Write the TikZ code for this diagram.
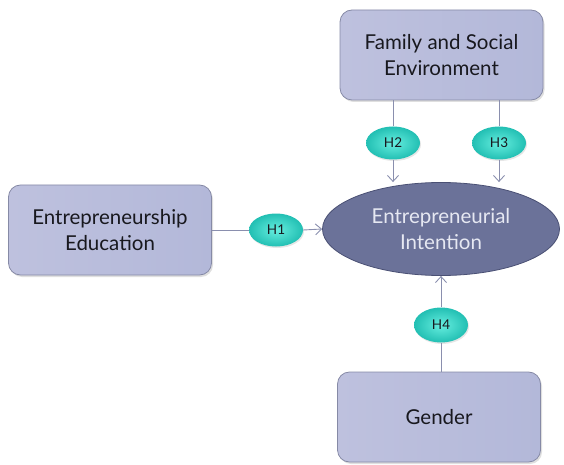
\documentclass[tikz,border=0pt]{standalone}
\usepackage{fontspec}
\setmainfont{Lato}
\usetikzlibrary{shapes.geometric,arrows.meta,shadows}
\definecolor{boxL}{HTML}{BEC1DE}
\definecolor{boxR}{HTML}{B3B8D9}
\definecolor{boxD}{HTML}{868AA6}
\definecolor{ellF}{HTML}{6B7299}
\definecolor{ellD}{HTML}{4A5074}
\definecolor{ellT}{HTML}{E6E8F2}
\definecolor{hIn}{HTML}{66EEDF}
\definecolor{hOut}{HTML}{22BFB3}
\definecolor{lineC}{HTML}{8A8FAE}
\definecolor{txt}{HTML}{18181E}
\begin{document}
\begin{tikzpicture}[x=1pt,y=1pt,
  factor/.style={rectangle, rounded corners=12pt, draw=boxD, line width=0.8pt,
    left color=boxL, right color=boxR, minimum width=203pt, minimum height=90pt,
    align=center, font=\fontsize{20.5}{26}\selectfont, text=txt,
    drop shadow={opacity=0.25, shadow xshift=1.5pt, shadow yshift=-2pt}},
  target/.style={ellipse, draw=ellD, line width=0.8pt, fill=ellF,
    minimum width=237pt, minimum height=93pt, inner sep=0pt, align=center,
    font=\fontsize{20.5}{26}\selectfont, text=ellT},
  hyp/.style={ellipse, inner sep=0pt, minimum width=54pt, minimum height=33pt,
    inner color=hIn, outer color=hOut, font=\fontsize{13.5}{15}\selectfont, text=txt,
    drop shadow={opacity=0.2, shadow xshift=1pt, shadow yshift=-1.5pt}},
  conn/.style={draw=lineC, line width=0.9pt},
  arr/.style={conn, -{Straight Barb[length=6pt,width=11pt]}}
]
\useasboundingbox (0,0) rectangle (564,464);
\node[factor] (fam) at (441.5,409) {Family and Social\\Environment};
\node[factor] (edu) at (110,234) {Entrepreneurship\\Education};
\node[factor] (gen) at (439,47) {Gender};
\node[target] (ei) at (441,235) {Entrepreneurial\\Intention};
\node[hyp] (h1) at (276,234) {H1};
\node[hyp] (h2) at (393,321) {H2};
\node[hyp] (h3) at (499,321) {H3};
\node[hyp, minimum height=35pt] (h4) at (441,139) {H4};
\draw[conn] (edu.east) -- (h1.west);
\draw[arr] (h1.east) -- (ei.west);
\draw[conn] (fam.south -| h2) -- (h2.north);
\draw[arr] (h2.south) -- (ei.north -| h2);
\draw[conn] (fam.south -| h3) -- (h3.north);
\draw[arr] (h3.south) -- (ei.north -| h3);
\draw[conn] (gen.north -| h4) -- (h4.south);
\draw[arr] (h4.north) -- (ei.south);
\end{tikzpicture}
\end{document}
